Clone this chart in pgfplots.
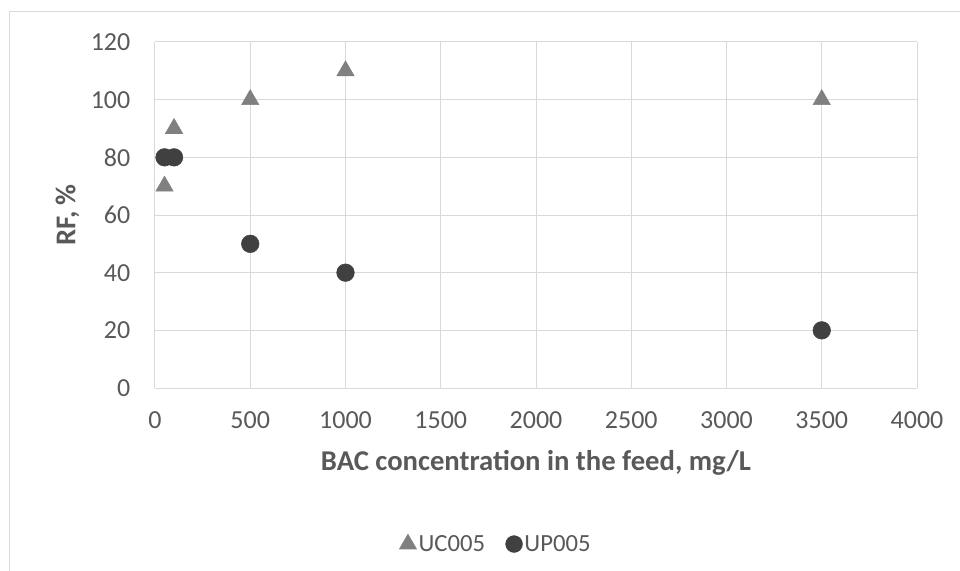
\documentclass[border=0pt]{standalone}
\usepackage{fontspec}
\setmainfont{Carlito}
\usepackage{pgfplots}
\pgfplotsset{compat=1.18}
\definecolor{gridc}{HTML}{D9D9D9}
\definecolor{tickc}{HTML}{595959}
\definecolor{tric}{HTML}{808080}
\definecolor{circc}{HTML}{404040}
\begin{document}
\begin{tikzpicture}
\useasboundingbox (-116.25pt,-137.25pt) rectangle (603.75pt,291pt);
\draw[gridc, line width=0.75pt] (-108.75pt,-160pt) -- (-108.75pt,282pt) -- (620pt,282pt);
\begin{axis}[
  scale only axis,
  width=571.5pt, height=259.5pt,
  xmin=0, xmax=4000, ymin=0, ymax=120,
  xtick={0,500,...,4000}, ytick={0,20,...,120},
  grid=major,
  major grid style={gridc, line width=0.75pt},
  axis line style={draw=none},
  tick style={draw=none},
  ticklabel style={font=\fontsize{19.5pt}{23pt}\selectfont, text=tickc},
  /pgf/number format/assume math mode=true,
  /pgf/number format/1000 sep={},
  xticklabel style={yshift=-14pt},
  yticklabel style={xshift=-15pt},
  xlabel={\textbf{BAC concentration in the feed, mg/L}},
  ylabel={\textbf{RF, \%}},
  label style={font=\fontsize{21.5pt}{26pt}\selectfont, text=tickc},
  xlabel style={at={(axis description cs:0.5,-0.217)}, anchor=center},
  ylabel style={at={(axis description cs:-0.115,0.5)}, anchor=center},
  legend style={at={(0.4475,-0.451)}, anchor=center, legend columns=2, draw=none,
    font=\fontsize{18.5pt}{22pt}\selectfont, text=tickc,
    /tikz/every even column/.append style={column sep=14pt},
    nodes={inner sep=1.5pt}},
  legend image code/.code={\draw[#1] plot coordinates {(0.22cm,0cm)};},
  clip=false,
]
\addlegendimage{only marks, mark=triangle*, mark size=7.4pt, color=tric}
\addlegendentry{UC005}
\addlegendimage{only marks, mark=*, mark size=6.3pt, color=circc}
\addlegendentry{UP005}
\addplot[forget plot, only marks, mark=triangle*, mark size=7.5pt, color=tric] coordinates {
(50,70) (100,90) (500,100) (1000,110) (3500,100)};
\addplot[forget plot, only marks, mark=*, mark size=6.6pt, color=circc] coordinates {
(50,80) (100,80) (500,50) (1000,40) (3500,20)};
\end{axis}
\end{tikzpicture}
\end{document}
